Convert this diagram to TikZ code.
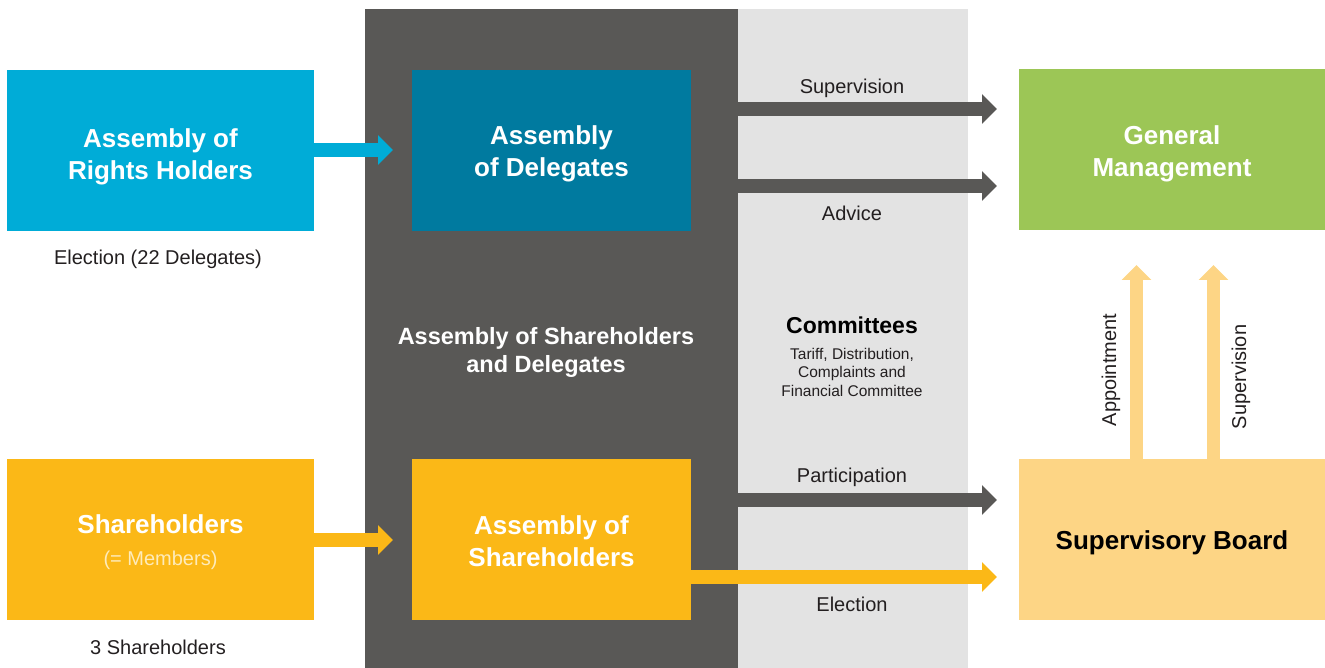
\documentclass[tikz,border=0pt]{standalone}
\usepackage{fontspec}
\setmainfont{Liberation Sans}
\usetikzlibrary{arrows.meta}
\definecolor{cyanb}{HTML}{00ACD7}
\definecolor{tealb}{HTML}{007A9F}
\definecolor{greenb}{HTML}{9CC656}
\definecolor{yellowb}{HTML}{FBB817}
\definecolor{paleb}{HTML}{FDD585}
\definecolor{darkcol}{HTML}{595856}
\definecolor{lightcol}{HTML}{E3E3E3}
\definecolor{txt}{HTML}{231F20}
\definecolor{memb}{HTML}{FEEBBA}
\newcommand\boxfont{\fontsize{26}{32}\selectfont\bfseries}
\newcommand\lblfont{\fontsize{20}{24}\selectfont}
\newcommand\dn[2]{\raisebox{-#1}[\height][\depth]{\begin{tabular}{@{}c@{}}#2\end{tabular}}}
\tikzset{
  box/.style={rectangle, inner sep=0pt, minimum height=161pt, font=\boxfont, text=white},
  lbl/.style={inner sep=0pt, font=\lblfont, text=txt},
  flow/.style={line width=13.5pt, -{Triangle[width=29pt,length=15pt]}},
}
\begin{document}
\begin{tikzpicture}[x=1pt,y=-1pt]
\useasboundingbox (0,0) rectangle (1325,668);
% columns
\fill[darkcol] (365,9) rectangle (738,668);
\fill[lightcol] (738,9) rectangle (968,668);
% boxes
\node[box, fill=cyanb, minimum width=307pt] (rh) at (160.5,150.5) {\dn{7pt}{Assembly of\\Rights Holders}};
\node[box, fill=tealb, minimum width=279pt] (del) at (551.5,150.5) {\dn{4pt}{Assembly\\of Delegates}};
\node[box, fill=greenb, minimum width=306pt] (gm) at (1172,149.5) {\dn{5pt}{General\\Management}};
\node[box, fill=yellowb, minimum width=307pt] (sh) at (160.5,539.5) {\dn{4pt}{Shareholders\\{\lblfont\mdseries\color{memb}(= Members)}}};
\node[box, fill=yellowb, minimum width=279pt] (as) at (551.5,539.5) {\dn{5pt}{Assembly of\\Shareholders}};
\node[box, fill=paleb, minimum width=306pt, text=black] (sb) at (1172,539.5) {\dn{4pt}{Supervisory Board}};
% labels
\node[lbl] (l1) at (158,259) {Election (22 Delegates)};
\node[lbl] (l2) at (158,647) {3 Shareholders};
\node[inner sep=0pt, align=center, text=white, font={\fontsize{23.5}{28}\selectfont\bfseries}] (asd) at (546,352) {Assembly of Shareholders\\and Delegates};
\node[inner sep=0pt, font={\fontsize{23}{28}\selectfont\bfseries}, text=black] (com) at (852,325) {Committees};
\node[inner sep=0pt, align=center, text=txt, font={\fontsize{15.5}{18.5}\selectfont}] (comt) at (852,372) {Tariff, Distribution,\\Complaints and\\Financial Committee};
\node[lbl] (ls) at (852,88) {Supervision};
\node[lbl] (la) at (852,213) {Advice};
\node[lbl] (lp) at (852,477) {Participation};
\node[lbl] (le) at (852,604) {Election};
\node[lbl, rotate=90] (lap) at (1111,370) {Appointment};
\node[lbl, rotate=90] (lsu) at (1241,377) {Supervision};
% coordinates for free arrow ends
\coordinate (c1) at (393,150);
\coordinate (c2) at (393,540);
\coordinate (s0) at (738,109);
\coordinate (s1) at (997,109);
\coordinate (a0) at (738,186);
\coordinate (a1) at (997,186);
\coordinate (p0) at (738,500);
\coordinate (p1) at (997,500);
\coordinate (e1) at (997,577);
\coordinate (v1) at (1136.5,265);
\coordinate (v2) at (1213.5,265);
% arrows
\draw[flow, cyanb] (rh.east |- c1) -- (c1);
\draw[flow, yellowb] (sh.east |- c2) -- (c2);
\draw[flow, darkcol] (s0) -- (s1);
\draw[flow, darkcol] (a0) -- (a1);
\draw[flow, darkcol] (p0) -- (p1);
\draw[flow, yellowb] (as.east |- e1) -- (e1);
\draw[flow, paleb] (sb.north -| v1) -- (v1);
\draw[flow, paleb] (sb.north -| v2) -- (v2);
\end{tikzpicture}
\end{document}
